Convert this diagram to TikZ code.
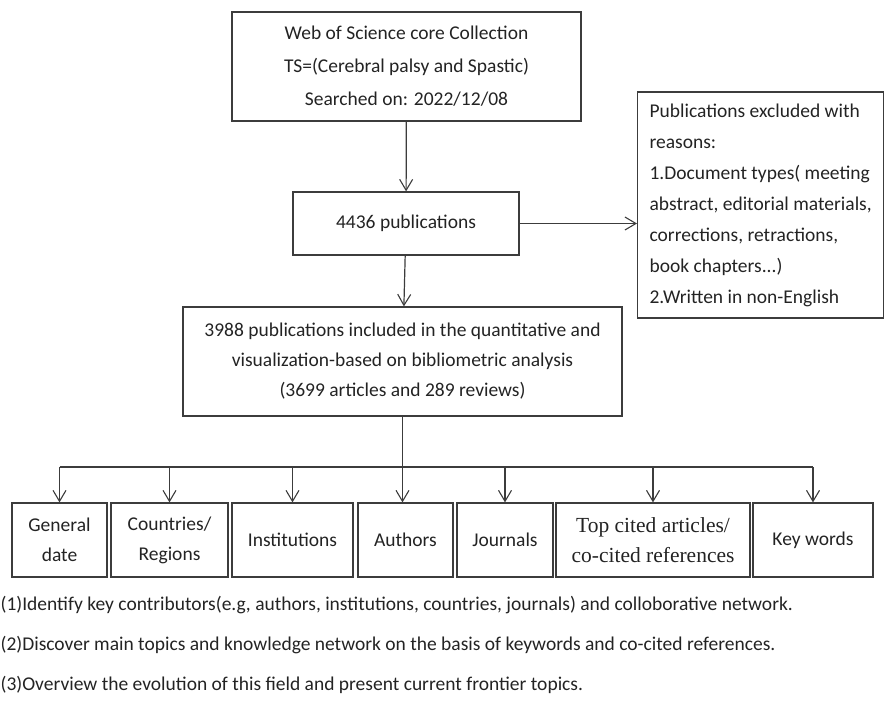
\documentclass[tikz,border=0pt]{standalone}
\usepackage{fontspec}
\setmainfont{Carlito}
\newfontfamily\citefont{Liberation Serif}
\usetikzlibrary{arrows.meta,calc}
\definecolor{LineGray}{RGB}{60,60,60}
\definecolor{TextGray}{RGB}{35,35,35}

\begin{document}
\begin{tikzpicture}[x=1pt, y=-1pt,
    every path/.style={LineGray, line width=1.2pt},
    flow/.style={-{Straight Barb[length=11pt,width=13pt,line width=1.1pt]}},
    flowbox/.style={draw, text=TextGray, align=center, inner sep=0pt,
      font=\fontsize{19.5}{#1}\selectfont},
    flowbox/.default=30]
  \useasboundingbox (0,0) rectangle (885,703);
  \node[flowbox=33, minimum width=349pt, minimum height=109pt] (wos) at (406.5,66.5)
    {Web of Science core Collection\\TS=(Cerebral palsy and Spastic)\\Searched on: 2022/12/08};
  \node[flowbox, minimum width=226pt, minimum height=63pt] (found) at (406,223.5) {4436 publications};
  \node[flowbox=31, minimum height=226pt, align=left, inner xsep=12pt, anchor=west]
    (excl) at (637,205)
    {Publications excluded with\\reasons:\\1.Document types( meeting\\abstract, editorial materials,\\corrections, retractions,\\book chapters...)\\2.Written in non-English};
  \node[flowbox, minimum width=439pt, minimum height=109pt] (incl) at (402.5,361.5)
    {3988 publications included in the quantitative and\\visualization-based on bibliometric analysis\\(3699 articles and 289 reviews)};
  % categories
  \foreach \i/\x/\w/\t in {1/59.5/95/{General\\date}, 2/169.5/117/{Countries/\\Regions},
      3/292.5/121/Institutions, 4/405.5/95/Authors, 5/505/96/Journals,
      6/653/194/{\citefont\fontsize{21.5}{30}\selectfont Top cited articles/\\\citefont\fontsize{21.5}{30}\selectfont co-cited references}, 7/813/120/Key words} {
    \node[flowbox, minimum width=\w pt, minimum height=74pt] (cat\i) at (\x,540) {\t};
  }
  \coordinate (bus) at (402,467);
  \draw[flow] (wos) -- (found);
  \draw[flow] (found.east) -- (found.east -| excl.west);
  \draw[flow] (found) -- (incl);
  \draw[flow] (incl.south) -- (incl.south |- cat4.north);
  \draw (cat1.north |- bus) -- (cat7.north |- bus);
  \foreach \i in {1,2,3,5,6,7} {
    \draw[flow] (cat\i.north |- bus) -- (cat\i.north);
  }
  % aims
  \foreach \i/\y/\t in {1/605/{(1)Identify key contributors(e.g, authors, institutions, countries, journals) and colloborative network.},
      2/645/{(2)Discover main topics and knowledge network on the basis of keywords and co-cited references.},
      3/685/{(3)Overview the evolution of this field and present current frontier topics.}} {
    \node[anchor=west, inner sep=0pt, text=TextGray, font=\fontsize{19.5}{20}\selectfont] (aim\i) at (0,\y) {\t};
  }
\end{tikzpicture}
\end{document}
